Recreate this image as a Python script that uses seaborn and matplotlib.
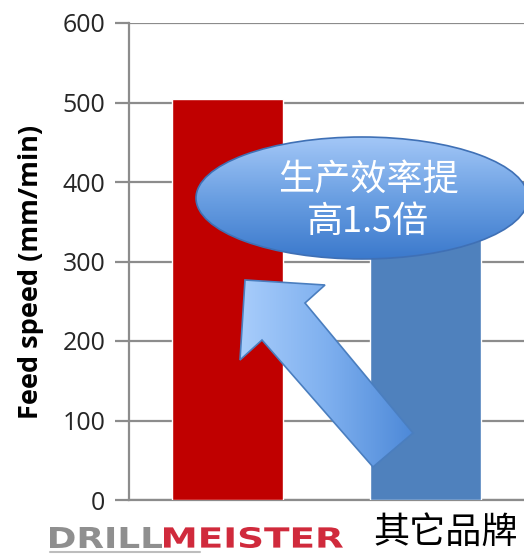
import numpy as np
import matplotlib
matplotlib.use("Agg")
import matplotlib.pyplot as plt
import seaborn as sns
import pandas as pd
from matplotlib.patches import Ellipse, Polygon, PathPatch
from matplotlib.textpath import TextPath
from matplotlib.font_manager import FontProperties
from matplotlib.transforms import Affine2D
from matplotlib.colors import LinearSegmentedColormap

# ---- data ----
categories = ["DRILLMEISTER", "其它品牌"]
feed_speed = [505, 333]
bar_colors = ["#C00000", "#4F81BD"]
y_ticks = [0, 100, 200, 300, 400, 500, 600]
y_label = "Feed speed (mm/min)"
logo_parts = ["DRILL", "MEISTER"]
callout_lines = ["生产效率提", "高1.5倍"]

W, H = 524, 554
sns.set_theme(style="white")
plt.rcParams['font.family'] = ['Open Sans', 'Noto Sans CJK SC', 'DejaVu Sans']

fig = plt.figure(figsize=(W / 100, H / 100), dpi=100)
ax = fig.add_axes([129 / W, 54 / H, 395 / W, 477 / H])

df = pd.DataFrame({"cat": categories, "val": feed_speed})
sns.barplot(data=df, x="cat", y="val", hue="cat", palette=bar_colors,
            width=0.56, legend=False, ax=ax, saturation=1, zorder=3)

ax.set_xlim(-0.5, 1.5)
ax.set_ylim(0, 600)
ax.set_yticks(y_ticks)
ax.set_axisbelow(True)
ax.yaxis.grid(True, color="#8c8c8c", lw=1.6)
ax.xaxis.grid(False)
for s in ["top", "right"]:
    ax.spines[s].set_visible(False)
for s in ["left", "bottom"]:
    ax.spines[s].set_color("#8c8c8c")
    ax.spines[s].set_linewidth(1.6)
ax.tick_params(axis="y", direction="out", length=10, width=1.6, color="#8c8c8c",
               labelsize=18, labelcolor="#262626", pad=7, left=True)
ax.tick_params(axis="x", bottom=False, labelbottom=False)
ax.set_xlabel("")
ax.set_ylabel("")
for lbl in ax.get_yticklabels():
    lbl.set_fontfamily(['Open Sans', 'DejaVu Sans'])

fig.text(31 / W, 1 - 272 / H, y_label, rotation=90, ha="center", va="center",
         fontsize=19.5, fontweight="bold", color="#000000")

# ---- overlay in image pixel coordinates ----
ov = fig.add_axes([0, 0, 1, 1], zorder=5)
ov.set_xlim(0, W)
ov.set_ylim(H, 0)
ov.axis("off")
ov.patch.set_alpha(0)


def fitted_text(s, x0, x1, ytop, ybot, color):
    fp = FontProperties(family="DejaVu Sans", weight="bold")
    tp = TextPath((0, 0), s, size=10, prop=fp)
    ext = tp.get_extents()
    sx = (x1 - x0) / ext.width
    sy = (ybot - ytop) / ext.height
    tr = (Affine2D().translate(-ext.x0, -ext.y0).scale(sx, -sy)
          .translate(x0, ybot))
    patch = PathPatch(tp, facecolor=color, edgecolor="none",
                      transform=tr + ov.transData, zorder=6)
    ov.add_patch(patch)


fitted_text(logo_parts[0], 50, 162, 527, 548, "#8f8f8f")
fitted_text(logo_parts[1], 164, 343, 527, 548, "#d02a3c")
ov.plot([50, 200], [552, 552], color="#bdbdbd", lw=1.5)
ov.text(446, 533, categories[1], ha="center", va="center", fontsize=26,
        color="#000000", family=["Noto Sans CJK SC", "DejaVu Sans"])

# arrow
arrow_pts = [(245, 280), (325, 285), (305, 303), (413, 433), (373, 467),
             (262, 340), (240, 360)]
arrow = Polygon(arrow_pts, closed=True, facecolor="none", edgecolor="#4a7ebf",
                lw=1.2, zorder=6)
ov.add_patch(arrow)
xs = [p[0] for p in arrow_pts]
ys = [p[1] for p in arrow_pts]
grad = np.linspace(0, 1, 256).reshape(1, -1)
cm_arrow = LinearSegmentedColormap.from_list("a", ["#a8cdfb", "#7fb0ef", "#4d89d8"])
im = ov.imshow(grad, cmap=cm_arrow, aspect="auto",
               extent=[min(xs), max(xs), max(ys), min(ys)], zorder=5.5)
im.set_clip_path(arrow)

# ellipse callout
ell = Ellipse((362, 198), 332, 122, facecolor="none", edgecolor="#3f70b5",
              lw=1.2, zorder=8)
ov.add_patch(ell)
cm_ell = LinearSegmentedColormap.from_list("e", ["#a3c7f7", "#6a9fe2", "#3b79cc"])
gradv = np.linspace(0, 1, 256).reshape(-1, 1)
im2 = ov.imshow(gradv, cmap=cm_ell, aspect="auto",
                extent=[196, 528, 259, 137], zorder=7.5)
im2.set_clip_path(ell)
ov.text(368, 180, callout_lines[0], ha="center", va="center", fontsize=26,
        color="white", zorder=9, family=["Noto Sans CJK SC", "DejaVu Sans"])
ov.text(368, 222, callout_lines[1], ha="center", va="center", fontsize=26,
        color="white", zorder=9, family=["Noto Sans CJK SC", "DejaVu Sans"])
ov.set_xlim(0, W)
ov.set_ylim(H, 0)

fig.savefig("out.png", dpi=100)
